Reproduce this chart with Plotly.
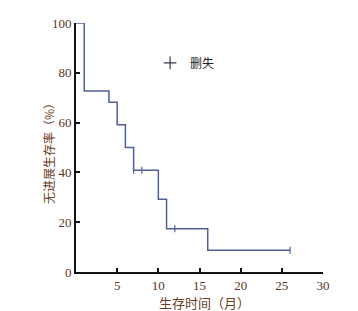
import plotly.graph_objects as go

# Kaplan-Meier step curve (months, % progression-free survival)
step_times = [0, 1, 4, 5, 6, 7, 10, 11, 16, 26]
step_surv = [100, 72.7, 68.2, 59.1, 50.0, 40.9, 29.2, 17.4, 8.7, 8.7]

# Censored observations
cens_times = [7, 8, 12, 26]
cens_surv = [40.9, 40.9, 17.4, 8.7]

x_ticks = [0, 5, 10, 15, 20, 25, 30]
y_ticks = [0, 20, 40, 60, 80, 100]

x_title = "生存时间（月）"
y_title = "无进展生存率（%）"

line_color = "#4f5f98"
tick_color = "#5a3520"
title_color = "#6a3b22"

fig = go.Figure()
fig.add_trace(go.Scatter(
    x=step_times, y=step_surv, mode="lines",
    line=dict(color=line_color, width=1.5, shape="hv"),
    showlegend=False, cliponaxis=False, hoverinfo="skip"))
fig.add_trace(go.Scatter(
    x=cens_times, y=cens_surv, mode="markers", name="删失",
    marker=dict(symbol="line-ns", size=5, color=line_color,
                line=dict(color=line_color, width=1.2)),
    cliponaxis=False, showlegend=False))
# legend symbol "+"
fig.add_trace(go.Scatter(
    x=[None], y=[None], mode="markers", name="删失",
    marker=dict(symbol="cross-thin", size=9, color="#333a55",
                line=dict(color="#333a55", width=1.2)),
    showlegend=True))

# page body adds an 8px offset; figure sized to fit the window
fig.update_layout(
    width=350, height=303,
    margin=dict(l=68, r=35, t=15, b=39),
    paper_bgcolor="white", plot_bgcolor="white",
    font=dict(family="Liberation Serif", color=tick_color, size=13),
    legend=dict(x=0.30, y=0.84, xanchor="left", yanchor="middle",
                bgcolor="rgba(0,0,0,0)",
                font=dict(family="Noto Sans CJK SC", size=12, color="#222"),
                itemwidth=30, tracegroupgap=0),
    xaxis=dict(range=[0, 30], tickvals=x_ticks,
               ticktext=["", "5", "10", "15", "20", "25", "30"],
               showgrid=False, zeroline=False, automargin=False,
               showline=True, linecolor="#111", linewidth=2,
               ticks="inside", ticklen=4, tickwidth=1.5, tickcolor="#111",
               tickfont=dict(family="Liberation Serif", size=13, color=tick_color)),
    yaxis=dict(range=[0, 100], tickvals=y_ticks,
               showgrid=False, zeroline=False, automargin=False,
               showline=True, linecolor="#111", linewidth=2,
               ticks="inside", ticklen=4, tickwidth=1.5, tickcolor="#111",
               tickfont=dict(family="Liberation Serif", size=13, color=tick_color)),
    annotations=[
        dict(text=x_title, xref="paper", yref="paper", x=0.522, y=-0.122,
             xanchor="center", yanchor="middle", showarrow=False,
             font=dict(family="Noto Sans CJK SC", size=13, color=title_color)),
        dict(text=y_title, xref="paper", yref="paper", x=-0.109, y=0.486,
             xanchor="center", yanchor="middle", showarrow=False, textangle=-90,
             font=dict(family="Noto Sans CJK SC", size=12, color=title_color)),
    ],
)

fig.write_html("out.html")
